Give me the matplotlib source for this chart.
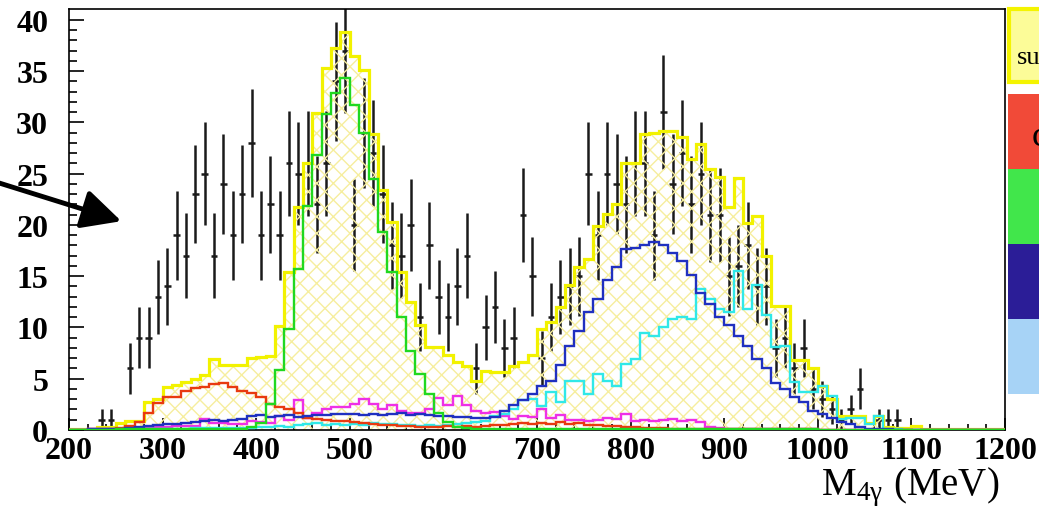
#!/usr/bin/env python
"""
Four-photon invariant mass: data points against the stacked MC components
and their sum (yellow, hatched). Saves out.png.
"""
import numpy as np
import matplotlib
matplotlib.use('Agg')  # noqa: E402
import matplotlib.pyplot as plt
from matplotlib.patches import Rectangle

# 10 MeV bins from 200 to 1200 MeV
edges = np.arange(200, 1201, 10)

data_centers = [235, 245, 265, 275, 285, 295, 305, 315, 325, 335, 345, 355, 365, 375, 385,
                395, 405, 415, 425, 435, 445, 455, 465, 475, 485, 495, 505, 515, 525, 535,
                545, 555, 565, 575, 585, 595, 605, 615, 625, 635, 645, 655, 665, 675, 685,
                695, 705, 715, 725, 735, 745, 755, 765, 775, 785, 795, 805, 815, 825, 835,
                845, 855, 865, 875, 885, 895, 905, 915, 925, 935, 945, 955, 965, 975, 985,
                995, 1005, 1015, 1025, 1035, 1045, 1065, 1075, 1085]
data_counts = [1, 1, 6, 9, 9, 13, 14, 19, 17, 23, 25, 17, 24, 19, 23,
               28, 19, 22, 19, 26, 25, 26, 22, 26, 34, 37, 20, 29, 27, 23,
               18, 17, 20, 11, 18, 13, 11, 14, 17, 6, 10, 12, 8, 9, 21,
               15, 7, 11, 13, 14, 15, 25, 19, 25, 24, 22, 26, 26, 19, 31,
               24, 27, 22, 25, 21, 21, 15, 16, 18, 14, 14, 8, 9, 6, 8,
               4, 3, 2, 1, 2, 4, 1, 1, 1]

mc_sum = [0.1, 0.1, 0.1, 0.25, 0.25, 0.7, 0.9, 0.9, 2.7, 3.0,
          4.2, 4.4, 4.7, 5.0, 5.4, 6.9, 6.3, 6.3, 6.3, 7.0,
          7.1, 7.2, 10.1, 15.4, 21.8, 26.0, 30.9, 35.3, 37.3, 38.8,
          36.5, 35.1, 28.9, 23.4, 20.3, 15.4, 12.5, 10.2, 8.1, 8.1,
          7.3, 6.6, 6.2, 4.8, 5.8, 5.7, 5.7, 6.2, 6.6, 7.3,
          9.9, 10.5, 12.0, 14.1, 15.9, 16.7, 19.9, 21.1, 22.0, 26.0,
          26.0, 28.9, 29.0, 29.2, 29.2, 28.6, 26.4, 27.9, 25.5, 24.7,
          21.8, 24.6, 20.2, 20.9, 17.0, 12.1, 12.1, 6.8, 6.8, 6.0,
          4.3, 3.0, 1.4, 1.4, 1.4, 0.7, 1.4, 0.3, 0.2, 0.2,
          0.4, 0.05, 0.05, 0.05, 0.05, 0.05, 0.05, 0.05, 0.05, 0.05]

mc_green = [0.0, 0.0, 0.0, 0.0, 0.0, 0.05, 0.05, 0.05, 0.05, 0.05,
            0.05, 0.05, 0.05, 0.05, 0.05, 0.05, 0.05, 0.05, 0.1, 0.3,
            0.7, 2.5, 5.9, 9.9, 15.7, 21.9, 26.8, 30.8, 32.9, 34.3,
            31.7, 29.0, 24.5, 19.3, 15.4, 11.0, 7.7, 5.5, 3.5, 1.7,
            0.75, 0.3, 0.2, 0.1, 0.05, 0.05, 0.05, 0.05, 0.05, 0.05,
            0.05, 0.05, 0.05, 0.05, 0.05, 0.05, 0.05, 0.05, 0.05, 0.05,
            0.05, 0.05, 0.05, 0.05, 0.05, 0.05, 0.05, 0.05, 0.05, 0.05,
            0.05, 0.05, 0.05, 0.05, 0.05, 0.05, 0.05, 0.05, 0.05, 0.05,
            0.0, 0.0, 0.0, 0.0, 0.0, 0.0, 0.0, 0.0, 0.0, 0.0,
            0.0, 0.0, 0.0, 0.0, 0.0, 0.0, 0.0, 0.0, 0.0, 0.0]

mc_red = [0.0, 0.0, 0.05, 0.1, 0.1, 0.2, 0.35, 0.75, 1.7, 2.6,
          3.2, 3.2, 3.8, 4.1, 4.2, 4.5, 4.6, 4.2, 3.8, 3.6,
          3.2, 2.5, 2.2, 2.0, 1.7, 1.2, 1.1, 1.0, 0.9, 0.9,
          0.8, 0.7, 0.6, 0.5, 0.5, 0.4, 0.4, 0.3, 0.3, 0.3,
          0.4, 0.3, 0.4, 0.3, 0.4, 0.5, 0.5, 0.6, 0.7, 0.6,
          0.7, 0.6, 0.8, 0.6, 0.7, 0.5, 0.5, 0.4, 0.4, 0.3,
          0.3, 0.2, 0.2, 0.2, 0.1, 0.1, 0.05, 0.05, 0.05, 0.05,
          0.05, 0.05, 0.05, 0.05, 0.05, 0.05, 0.05, 0.05, 0.05, 0.05,
          0.0, 0.0, 0.0, 0.0, 0.0, 0.0, 0.0, 0.0, 0.0, 0.0,
          0.0, 0.0, 0.0, 0.0, 0.0, 0.0, 0.0, 0.0, 0.0, 0.0]

mc_blue = [0.0, 0.0, 0.05, 0.05, 0.05, 0.1, 0.2, 0.3, 0.4, 0.5,
           0.6, 0.6, 0.7, 0.8, 0.9, 1.0, 0.9, 1.0, 1.1, 1.4,
           1.5, 1.3, 1.4, 1.5, 1.3, 1.4, 1.5, 1.5, 1.6, 1.6,
           1.6, 1.5, 1.6, 1.5, 1.6, 1.7, 1.5, 1.6, 1.5, 1.4,
           1.4, 1.3, 1.3, 1.2, 1.2, 1.3, 1.9, 2.4, 2.9, 3.5,
           4.3, 4.8, 6.3, 8.2, 9.7, 11.5, 12.8, 14.6, 15.9, 17.7,
           17.8, 18.0, 18.3, 18.0, 17.3, 16.5, 15.1, 13.4, 12.3, 11.0,
           10.2, 9.2, 8.2, 6.9, 6.0, 4.6, 4.0, 3.2, 2.7, 1.9,
           1.6, 1.2, 0.75, 0.6, 0.25, 0.05, 0.05, 0.05, 0.0, 0.0,
           0.0, 0.0, 0.0, 0.0, 0.0, 0.0, 0.0, 0.0, 0.0, 0.0]

mc_cyan = [0.0, 0.0, 0.0, 0.05, 0.05, 0.05, 0.05, 0.1, 0.1, 0.1,
           0.1, 0.1, 0.1, 0.2, 0.2, 0.2, 0.2, 0.2, 0.2, 0.2,
           0.3, 0.3, 0.4, 0.3, 0.5, 0.6, 0.7, 0.5, 0.6, 0.5,
           0.6, 0.5, 0.7, 0.6, 0.6, 0.5, 0.5, 0.4, 0.5, 0.4,
           0.5, 0.6, 0.7, 0.75, 0.9, 1.4, 1.6, 2.0, 2.9, 3.0,
           2.3, 3.7, 2.7, 4.8, 4.8, 3.5, 5.5, 4.8, 4.3, 6.4,
           6.9, 9.5, 9.2, 10.0, 10.8, 11.0, 10.8, 13.8, 12.8, 11.8,
           11.5, 15.5, 11.8, 14.1, 11.2, 8.1, 8.2, 4.7, 3.7, 3.7,
           4.3, 3.3, 1.1, 1.2, 1.2, 0.6, 1.4, 0.1, 0.05, 0.0,
           0.0, 0.0, 0.0, 0.0, 0.0, 0.0, 0.0, 0.0, 0.0, 0.0]

mc_magenta = [0.0, 0.0, 0.05, 0.05, 0.05, 0.05, 0.05, 0.05, 0.2, 0.25,
              0.3, 0.4, 0.4, 0.4, 1.1, 0.7, 0.7, 0.6, 0.6, 0.9,
              0.8, 0.7, 1.4, 1.0, 2.9, 1.2, 1.7, 2.0, 2.2, 2.2,
              2.5, 3.0, 2.5, 2.0, 2.4, 1.9, 1.7, 1.7, 2.0, 3.1,
              2.4, 3.35, 2.4, 1.9, 1.7, 1.8, 1.4, 1.1, 1.4, 1.3,
              2.0, 1.2, 1.5, 1.0, 1.0, 0.9, 1.0, 1.2, 1.1, 1.6,
              0.9, 1.0, 0.9, 1.0, 1.1, 0.9, 1.0, 0.8, 0.3, 0.2,
              0.1, 0.05, 0.05, 0.05, 0.05, 0.05, 0.05, 0.05, 0.05, 0.05,
              0.0, 0.0, 0.0, 0.0, 0.0, 0.0, 0.0, 0.0, 0.0, 0.0,
              0.0, 0.0, 0.0, 0.0, 0.0, 0.0, 0.0, 0.0, 0.0, 0.0]

legend_colors = ['#f14a38', '#41e64b', '#2b1d97', '#a7d3f6']

W, H = 1039, 510


def fig_box(x0, y0, x1, y1):
    """Convert a pixel box (top-left origin) into figure fractions."""
    return x0 / W, 1 - y1 / H, (x1 - x0) / W, (y1 - y0) / H


def main():
    plt.rcParams['font.family'] = 'Liberation Serif'
    plt.rcParams['mathtext.fontset'] = 'stix'
    plt.rcParams['hatch.linewidth'] = 1.0

    fig = plt.figure(figsize=(W / 100, H / 100), dpi=100)
    ax = fig.add_axes(fig_box(69, 10, 1005, 431))

    x = np.array(data_centers)
    y = np.array(data_counts, dtype=float)
    ax.errorbar(x, y, yerr=np.sqrt(y), xerr=3.5, fmt='none', ecolor='#1a1a1a',
                elinewidth=1.8, capsize=0, zorder=1)

    # hatch is drawn over the data bars, which gives the dashed look
    ax.stairs(mc_sum, edges, fill=True, facecolor='none', edgecolor='#f6ee9e',
              hatch='xx', linewidth=0, zorder=2)
    ax.stairs(mc_sum, edges, color='#f2f200', linewidth=2.3, zorder=3)

    for vals, col in ((mc_magenta, '#ee30e6'), (mc_cyan, '#30e8e8'),
                      (mc_red, '#e83a10'), (mc_blue, '#2030c0'),
                      (mc_green, '#20d820')):
        ax.stairs(vals, edges, color=col, linewidth=1.7, zorder=4)

    ax.set_xlim(200, 1200)
    ax.set_ylim(0, 41.07)
    ax.set_xticks(np.arange(200, 1201, 100))
    ax.set_xticks(np.arange(200, 1201, 20), minor=True)
    ax.set_yticks(np.arange(0, 41, 5))
    ax.set_yticks(np.arange(0, 41, 1), minor=True)
    ax.tick_params(axis='x', which='major', direction='in', length=9, width=1.2, pad=4)
    ax.tick_params(axis='x', which='minor', direction='in', length=4.5, width=1.2)
    ax.tick_params(axis='y', which='major', direction='in', length=11, width=1.2, pad=15)
    ax.tick_params(axis='y', which='minor', direction='in', length=5.5, width=1.2)
    for lab in ax.get_xticklabels() + ax.get_yticklabels():
        lab.set_fontsize(23)
        lab.set_fontweight('bold')
    for sp in ax.spines.values():
        sp.set_linewidth(1.2)

    fig.text(999 / W, 1 - 495 / H, r'M$_{\mathregular{4\gamma}}$ (MeV)', fontsize=28,
             ha='right', va='baseline')

    # arrow coming in from the left edge
    ax.annotate('', xy=(124, H - 223), xytext=(-4, H - 183),
                xycoords='figure pixels', textcoords='figure pixels',
                arrowprops=dict(arrowstyle='-|>,head_length=1.2,head_width=0.6',
                                color='black', lw=3.5, mutation_scale=20))

    # legend panel, cut by the right edge of the picture
    fig.add_artist(Rectangle(fig_box(1009, 10, 1045, 83)[:2], 36 / W, 73 / H,
                             transform=fig.transFigure, facecolor='#fcfc98',
                             edgecolor='#f4f400', lw=3))
    fig.text(1017 / W, 1 - 64 / H, 'sum', fontsize=19, ha='left', va='baseline')
    tops = [95, 170, 245, 320, 395]
    for col, y0, y1 in zip(legend_colors, tops[:-1], tops[1:]):
        fig.add_artist(Rectangle(fig_box(1008, y0, 1045, y1)[:2], 37 / W, (y1 - y0) / H,
                                 transform=fig.transFigure, facecolor=col,
                                 edgecolor='none'))
    fig.text(1032 / W, 1 - 146 / H, 'c', fontsize=26, ha='left', va='baseline')

    fig.savefig('out.png', dpi=100)
    plt.close(fig)


if __name__ == "__main__":
    main()
